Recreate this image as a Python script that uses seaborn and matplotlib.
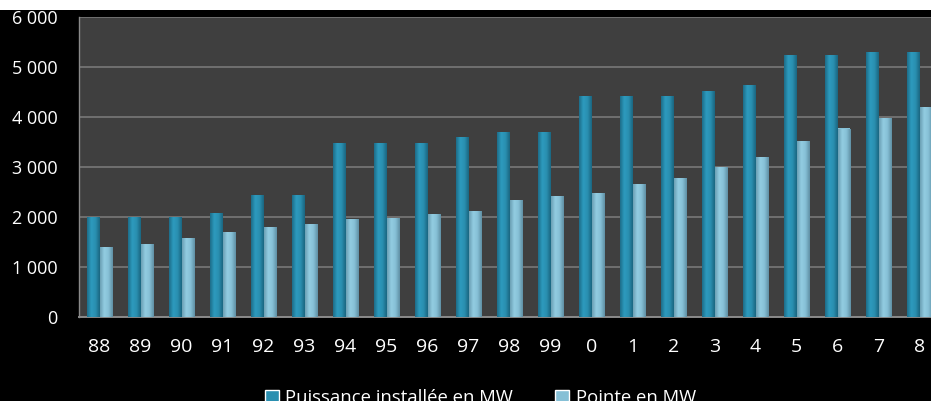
import pandas as pd
import numpy as np
import matplotlib
matplotlib.use("Agg")
import matplotlib.pyplot as plt
import seaborn as sns
from matplotlib.colors import LinearSegmentedColormap

# data
years = ["88", "89", "90", "91", "92", "93", "94", "95", "96", "97", "98",
         "99", "0", "1", "2", "3", "4", "5", "6", "7", "8"]
puissance = [2000, 2000, 2000, 2080, 2440, 2440, 3480, 3480, 3480, 3600, 3700,
             3700, 4420, 4420, 4420, 4520, 4630, 5240, 5240, 5300, 5300]
pointe = [1400, 1470, 1580, 1700, 1800, 1860, 1960, 1990, 2060, 2130, 2330,
          2410, 2480, 2660, 2780, 2990, 3200, 3520, 3770, 3980, 4200]
series_names = ["Puissance installée en MW", "Pointe en MW"]
yticks = [0, 1000, 2000, 3000, 4000, 5000, 6000]

df = pd.DataFrame({
    "annee": years * 2,
    "valeur": puissance + pointe,
    "serie": [series_names[0]] * len(years) + [series_names[1]] * len(years),
})

sns.set_style("dark")
plt.rcParams["font.family"] = ["Open Sans", "DejaVu Sans"]

fig = plt.figure(figsize=(9.31, 4.01), dpi=100, facecolor="black")
# white strip at the very top
fig.patches.append(plt.Rectangle((0, 1 - 10 / 401), 1, 10 / 401, transform=fig.transFigure,
                                 facecolor="white", edgecolor="none", zorder=0))
ax = fig.add_axes([79 / 931, 84 / 401, 852 / 931, 300 / 401])
ax.set_facecolor("#3f3f3f")

palette = {series_names[0]: "#2a8fb0", series_names[1]: "#86c0d6"}
sns.barplot(data=df, x="annee", y="valeur", hue="serie", palette=palette,
            width=0.6, dodge=True, ax=ax, legend=False, saturation=1,
            edgecolor="none", zorder=3)

# soft cylinder-like shading on each bar
grads = {
    "#2a8fb0": LinearSegmentedColormap.from_list("b", ["#1d6c88", "#2d9bbf", "#2a8fb0", "#1a6580"]),
    "#86c0d6": LinearSegmentedColormap.from_list("l", ["#6a9fb3", "#93cde2", "#86c0d6", "#5f8fa3"]),
}
for p in list(ax.patches):
    fc = matplotlib.colors.to_hex(p.get_facecolor())
    cmap = grads.get(fc)
    if cmap is None or p.get_height() == 0:
        continue
    x0, w, h = p.get_x(), p.get_width(), p.get_height()
    im = ax.imshow(np.linspace(0, 1, 64).reshape(1, -1), cmap=cmap, aspect="auto",
                   extent=[x0, x0 + w, 0, h], zorder=3.5, interpolation="bicubic")
    im.set_clip_path(p)

ax.set_xlim(-0.5, 20.28)
ax.set_ylim(0, 6000)
ax.set_yticks(yticks)
ax.set_yticklabels([f"{v:,}".replace(",", " ") for v in yticks])
ax.set_xlabel("")
ax.set_ylabel("")

ax.grid(False)
ax.yaxis.grid(True, color="#707070", linewidth=1.4, zorder=1)
ax.set_axisbelow(True)

for s in ["top", "right"]:
    ax.spines[s].set_visible(False)
ax.spines["left"].set_color("#8a8a8a")
ax.spines["bottom"].set_color("#8a8a8a")
ax.spines["left"].set_linewidth(1.0)
ax.spines["bottom"].set_linewidth(1.4)

ax.set_xticks(np.arange(-0.5, 20.5, 1), minor=True)
ax.tick_params(axis="x", which="major", length=0, pad=15, labelsize=14, labelcolor="white")
ax.tick_params(axis="x", which="minor", length=5, width=1, color="#8a8a8a", direction="out")
ax.tick_params(axis="y", length=4.5, width=1, color="#8a8a8a", direction="out",
               labelsize=13, labelcolor="white", pad=11)

handles = [plt.Rectangle((0, 0), 1, 1, facecolor=palette[n]) for n in series_names]
fig.legend(handles, series_names, loc="center", bbox_to_anchor=(0.516, 0.008), ncol=2,
           frameon=False, fontsize=13.3, labelcolor="white", handlelength=0.75,
           handleheight=0.75, columnspacing=2.3, handletextpad=0.35)

fig.savefig("out.png", dpi=100, facecolor="black")
plt.close(fig)
